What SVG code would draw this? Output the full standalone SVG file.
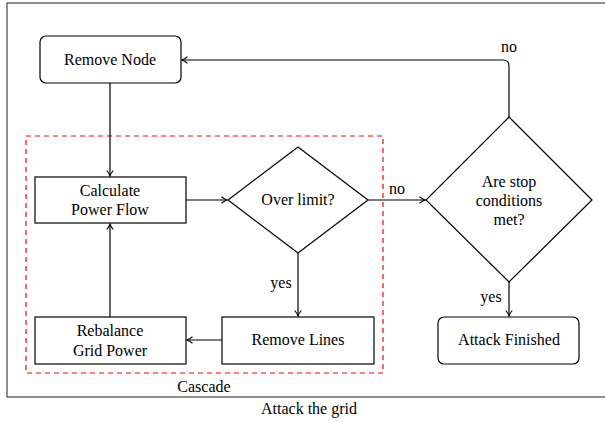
<svg xmlns="http://www.w3.org/2000/svg" width="605" height="422" viewBox="0 0 605 422">
<defs>
<style>
text{font-size:16px;fill:#000;text-anchor:middle}
.box{fill:#fff;stroke:#000;stroke-width:1.2}
.edge{fill:none;stroke:#000;stroke-width:1.2}
</style>
<marker id="arr" markerWidth="10" markerHeight="10" refX="7" refY="5" orient="auto" markerUnits="userSpaceOnUse">
<path d="M1.5,1.8 Q4.5,4.2 7,5 Q4.5,5.8 1.5,8.2" fill="none" stroke="#000" stroke-width="1.1"/>
</marker>
</defs>
<rect width="605" height="422" fill="#fff"/>
<g font-family="Liberation Serif, Times New Roman, DejaVu Serif, serif">
<rect x="7" y="3" width="610" height="394" fill="none" stroke="#444" stroke-width="1.2"/>
<rect id="cascade" x="26" y="136" width="357" height="237" fill="none" stroke="#f00" stroke-width="1.2" stroke-dasharray="5,4"/>
<text x="204" y="392">Cascade</text>
<text x="309" y="414" font-size="14">Attack the grid</text>

<g id="connectors">
<path class="edge" d="M110,83 V176" marker-end="url(#arr)"/>
<path class="edge" d="M186,200 H227" marker-end="url(#arr)"/>
<path class="edge" d="M368,200 H425" marker-end="url(#arr)"/>
<text x="397" y="194">no</text>
<path class="edge" d="M298,253 V316" marker-end="url(#arr)"/>
<text x="281" y="288">yes</text>
<path class="edge" d="M222,340 H187" marker-end="url(#arr)"/>
<path class="edge" d="M110,317 V224" marker-end="url(#arr)"/>
<path class="edge" d="M509,117 V66 Q509,60 503,60 H182" marker-end="url(#arr)"/>
<text x="509" y="52">no</text>
<path class="edge" d="M509,282 V316" marker-end="url(#arr)"/>
<text x="491" y="302">yes</text>
</g>

<g id="remove-node">
<rect class="box" x="40" y="36" width="141" height="47" rx="6"/>
<text x="110" y="65">Remove Node</text>
</g>
<g id="calc-power-flow">
<rect class="box" x="35" y="177" width="151" height="46"/>
<text x="110" y="196">Calculate</text>
<text x="110" y="215">Power Flow</text>
</g>
<g id="over-limit">
<polygon class="box" points="298,147 368,200 298,253 228,200"/>
<text x="298" y="205">Over limit?</text>
</g>
<g id="remove-lines">
<rect class="box" x="222" y="317" width="152" height="47"/>
<text x="298" y="345">Remove Lines</text>
</g>
<g id="rebalance">
<rect class="box" x="35" y="317" width="151" height="47"/>
<text x="110" y="336">Rebalance</text>
<text x="110" y="356">Grid Power</text>
</g>
<g id="stop-conditions">
<polygon class="box" points="509,117 592,200 509,282 426,200"/>
<text x="509" y="187">Are stop</text>
<text x="509" y="206">conditions</text>
<text x="509" y="225">met?</text>
</g>
<g id="attack-finished">
<rect class="box" x="438" y="317" width="141" height="47" rx="6"/>
<text x="509" y="345">Attack Finished</text>
</g>
</g>
</svg>
